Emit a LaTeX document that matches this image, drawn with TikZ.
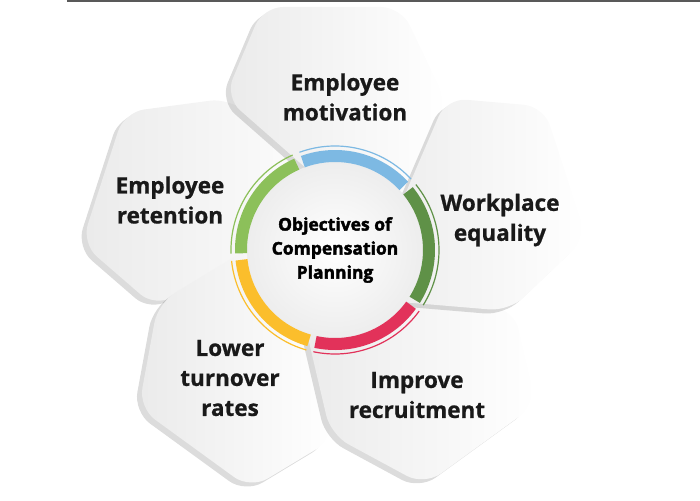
\documentclass[tikz,border=0pt]{standalone}
\usepackage{fontspec}
\setmainfont{Open Sans}[BoldFeatures={FakeBold=0.8}]
\newfontfamily\hubfont{Open Sans}[BoldFeatures={FakeBold=2.2}]
\usepackage{xcolor}
\usepackage{tikz}
\usetikzlibrary{shadows}

\definecolor{ringblue}{HTML}{7DB9E3}
\definecolor{ringdark}{HTML}{5F9147}
\definecolor{ringred}{HTML}{E2325A}
\definecolor{ringyellow}{HTML}{FBBE2C}
\definecolor{ringlight}{HTML}{8CC05A}

\newcommand{\objpetal}[1]{\path[petal, rotate=#1] (-110,153) -- (-72,243) -- (66,243) -- (112,147) -- (54,9) -- cycle;}
\newcommand{\objarc}[3]{%
  \draw[ring, #1] (#2:94) arc[start angle=#2, end angle=#3, radius=94];
  \draw[thinring, #1] (#2:104) arc[start angle=#2, end angle=#3, radius=104];}

\begin{document}
\begin{tikzpicture}[x=1pt, y=1pt,
    petal/.style={rounded corners=20pt, left color=gray!16, right color=white,
      drop shadow={shadow xshift=-5pt, shadow yshift=-4pt, opacity=0.28}},
    objtext/.style={font=\fontsize{22.5}{30}\selectfont\bfseries, align=center, text=black!90},
    hubtext/.style={circle, minimum size=176pt, inner color=white, outer color=gray!14,
      font=\hubfont\fontsize{17.5}{24}\selectfont\bfseries, align=center, text=black},
    ring/.style={line width=12pt},
    thinring/.style={line width=1.2pt}]

\useasboundingbox (-335,-250) rectangle (365,250);
\draw[black!65, line width=1.5pt] (-268,249) -- (365,249);

\objpetal{72}
\objpetal{144}
\objpetal{216}
\objpetal{0}
\objpetal{-72}

\node[hubtext] (hub) at (0,0) {Objectives of\\Compensation\\Planning};

\objarc{ringlight}{114}{182}
\objarc{ringblue}{43}{110}
\objarc{ringdark}{-32}{39}
\objarc{ringred}{-102}{-36}
\objarc{ringyellow}{186}{254}

\node[objtext] (motiv) at (10,153) {Employee\\motivation};
\node[objtext] (equal) at (165,30) {Workplace\\equality};
\node[objtext] (recruit) at (82,-145) {Improve\\recruitment};
\node[objtext] (turnover) at (-105,-128) {Lower\\turnover\\rates};
\node[objtext] (retain) at (-165,50) {Employee\\retention};
\end{tikzpicture}
\end{document}
